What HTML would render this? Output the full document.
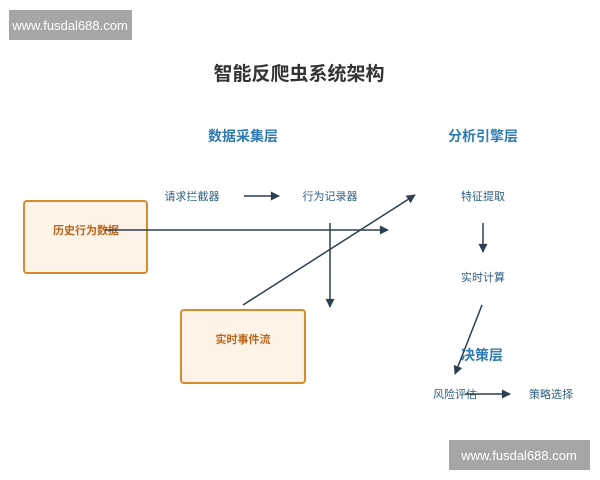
<!DOCTYPE html>
<html><head><meta charset="utf-8"><style>
body{margin:0;width:600px;height:480px;background:#fff;overflow:hidden;font-family:"Liberation Sans","Noto Sans CJK SC",sans-serif}
</style></head><body>
<svg width="600" height="480" xmlns="http://www.w3.org/2000/svg" style="position:absolute;left:0;top:0" font-family="Liberation Sans, Noto Sans CJK SC, sans-serif">
<defs><marker id="a" viewBox="0 0 10 10" refX="9" refY="5" markerWidth="7" markerHeight="6" orient="auto"><path d="M0,0L10,5L0,10z" fill="#2c3e50"/></marker></defs>
<rect x="9" y="10" width="123" height="30" fill="#a6a6a6"/>
<text x="70" y="30" font-size="13" fill="#fff" text-anchor="middle">www.fusdal688.com</text>
<rect x="449" y="440" width="141" height="30" fill="#a6a6a6"/>
<text x="519" y="460" font-size="13" fill="#fff" text-anchor="middle">www.fusdal688.com</text>
<text x="299" y="80" font-size="19" font-weight="bold" fill="#333" text-anchor="middle">智能反爬虫系统架构</text>
<g fill="#2e7bb0" font-size="14" font-weight="bold" text-anchor="middle">
<text x="243" y="141">数据采集层</text><text x="483" y="141">分析引擎层</text><text x="482" y="360">决策层</text></g>
<g fill="#2e5f80" font-size="11" text-anchor="middle">
<text x="192" y="200">请求拦截器</text><text x="330" y="200">行为记录器</text><text x="483" y="200">特征提取</text><text x="483" y="281">实时计算</text><text x="455" y="398">风险评估</text><text x="551" y="398">策略选择</text></g>
<rect x="24" y="201" width="123" height="72" rx="3" fill="#fdf3e6" stroke="#d98a2e" stroke-width="2"/>
<rect x="181" y="310" width="124" height="73" rx="3" fill="#fdf3e6" stroke="#d98a2e" stroke-width="2"/>
<g fill="#b8651b" font-size="11" font-weight="bold" text-anchor="middle"><text x="86" y="234">历史行为数据</text><text x="243" y="343">实时事件流</text></g>
<g stroke="#2c3e50" stroke-width="1.5" fill="none" marker-end="url(#a)">
<line x1="244" y1="196" x2="279" y2="196"/>
<line x1="105" y1="230" x2="388" y2="230"/>
<line x1="330" y1="223" x2="330" y2="307"/>
<line x1="243" y1="305" x2="415" y2="195"/>
<line x1="483" y1="223" x2="483" y2="252"/>
<line x1="482" y1="305" x2="455" y2="374"/>
<line x1="465" y1="394" x2="510" y2="394"/>
</g>
</svg>
</body></html>
